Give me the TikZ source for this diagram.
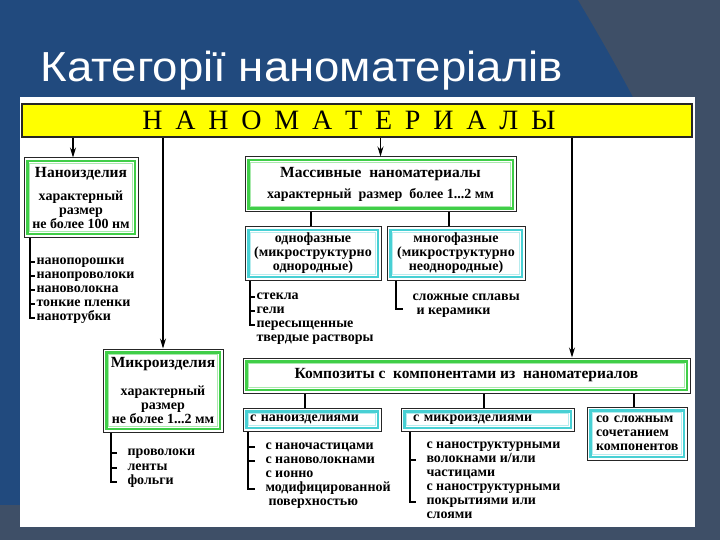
\documentclass[tikz,border=0pt]{standalone}
\usepackage{fontspec}
\setmainfont{Liberation Serif}
\newfontfamily\slidefont{Liberation Sans}
\usetikzlibrary{arrows.meta}

\definecolor{slideblue}{RGB}{33,74,126}
\definecolor{slidegray}{RGB}{62,79,103}
\definecolor{baryellow}{RGB}{255,255,0}
\definecolor{innergreen}{RGB}{64,206,72}
\definecolor{innercyan}{RGB}{72,208,212}

\newcommand{\itemfont}{\fontsize{14}{14}\selectfont\bfseries}
\newcommand{\headsize}{\fontsize{15.5}{15.5}\selectfont}
\newcommand{\barsp}{\hspace{12.8pt}}

\begin{document}
\begin{tikzpicture}[
            x = 1pt, y = -1pt, % pixel grid, y runs down
            > = {Stealth[length=10pt,width=6pt]}, % arrow head style
            line width = 1.1pt,
            framed/.style = {draw=black!85, fill=white, line width=1pt, inner sep=0pt, align=center, font=\itemfont},
            greenbox/.style = {framed, path picture={
                \draw[innergreen, line width=2.6pt] ([shift={(3.2pt,-3.2pt)}]path picture bounding box.north west) rectangle ([shift={(-3.2pt,3.2pt)}]path picture bounding box.south east);
                \draw[innergreen!45, line width=0.8pt] ([shift={(5.2pt,-5.2pt)}]path picture bounding box.north west) rectangle ([shift={(-5.2pt,5.2pt)}]path picture bounding box.south east);}},
            cyanbox/.style = {framed, path picture={
                \draw[innercyan, line width=2.6pt] ([shift={(3.2pt,-3.2pt)}]path picture bounding box.north west) rectangle ([shift={(-3.2pt,3.2pt)}]path picture bounding box.south east);
                \draw[innercyan!40, line width=0.8pt] ([shift={(5.2pt,-5.2pt)}]path picture bounding box.north west) rectangle ([shift={(-5.2pt,5.2pt)}]path picture bounding box.south east);}},
            entry/.style = {anchor=west, inner sep=0pt, outer sep=1.5pt, font=\itemfont, text height=1.6ex, text depth=0.3ex}
        ]
\useasboundingbox (0,0) rectangle (720,540);

% slide background
\fill[slideblue] (0,0) rectangle (720,540);
\fill[slidegray] (578,0) .. controls (605,45) and (630,90) .. (650,130) -- (650,505) -- (0,505) -- (0,540) -- (720,540) -- (720,0) -- cycle;
\fill[white] (20,97) rectangle (695,527);

\node[anchor=base west, text=white, inner sep=0pt, font=\slidefont\fontsize{42}{42}\selectfont] (title) at (40,82) {\scalebox{1.085}[1]{Категорії наноматеріалів}};

% top bar
\node[draw=black!85, fill=baryellow, line width=1.3pt, minimum width=670pt, minimum height=33pt, inner sep=0pt, font=\fontsize{28}{28}\selectfont] (bar) at (357,120.5)
     {Н\barsp А\barsp Н\barsp О\barsp М\barsp А\barsp Т\barsp Е\barsp Р\barsp И\barsp А\barsp Л\barsp Ы\hspace*{16pt}};

% boxes
\node[greenbox, minimum width=114pt, minimum height=79pt] (nanoizd) at (81,197.5) {{\headsize Наноизделия}\\[9pt] характерный\\ размер\\ не более 100 нм};
\node[greenbox, minimum width=271pt, minimum height=55pt] (massiv) at (380.5,184.5) {{\headsize Массивные\ \ наноматериалы}\\[7pt] характерный\ \ размер\ \ более 1...2 мм};
\node[cyanbox, minimum width=136pt, minimum height=53pt] (odnof) at (313,253.5) {однофазные\\ (микроструктурно\\ однородные)};
\node[cyanbox, minimum width=138pt, minimum height=53pt] (mnogof) at (456,253.5) {многофазные\\ (микроструктурно\\ неоднородные)};
\node[greenbox, minimum width=120pt, minimum height=83pt] (mikroizd) at (163,390.5) {{\headsize Микроизделия}\\[14pt] характерный\\ размер\\ не более 1...2 мм};
\node[greenbox, minimum width=447pt, minimum height=35pt] (kompoz) at (466.5,375.5) {{\headsize Композиты с\ \ компонентами из\ \ наноматериалов}};
\node[cyanbox, minimum width=138pt, minimum height=23pt, text width=124pt, align=left] (snano) at (312,419.5) {с наноизделиями};
\node[cyanbox, minimum width=173pt, minimum height=23pt, text width=149pt, align=left] (smikro) at (487.5,419.5) {с микроизделиями};
\node[cyanbox, minimum width=100pt, minimum height=53pt, text width=82pt, align=left] (sslozh) at (637,433.5) {со сложным\\ сочетанием\\ компонентов};

% arrows from the bar
\draw[->] (73,0 |- bar.south) -- (73,0 |- nanoizd.north);
\draw[->] (bar.south -| mikroizd.north) -- (mikroizd.north);
\draw[->] (bar.south -| massiv.north) -- (massiv.north);
\draw[->] (572,0 |- bar.south) -- (572,0 |- kompoz.north);

% branches
\draw (311,0 |- massiv.south) -- (311,0 |- odnof.north);
\draw (449,0 |- massiv.south) -- (449,0 |- mnogof.north);
\draw (305,0 |- kompoz.south) -- (305,0 |- snano.north);
\draw (484,0 |- kompoz.south) -- (484,0 |- smikro.north);
\draw (634,0 |- kompoz.south) -- (634,0 |- sslozh.north);

% lists
\node[entry] (np1) at (35,262) {нанопорошки};
\node[entry] (np2) at (35,276) {нанопроволоки};
\node[entry] (np3) at (35,290) {нановолокна};
\node[entry] (np4) at (35,304) {тонкие пленки};
\node[entry] (np5) at (35,318) {нанотрубки};
\draw (30,0 |- nanoizd.south) |- (np5.west);
\draw (30,0 |- np1.west) -- (np1.west);
\draw (30,0 |- np2.west) -- (np2.west);
\draw (30,0 |- np3.west) -- (np3.west);
\draw (30,0 |- np4.west) -- (np4.west);

\node[entry] (st1) at (255,297) {стекла};
\node[entry] (st2) at (255,311) {гели};
\node[entry] (st3) at (255,325) {пересыщенные};
\node[entry] (st4) at (255,339) {твердые растворы};
\draw (250,0 |- odnof.south) |- (st3.west);
\draw (250,0 |- st1.west) -- (st1.west);
\draw (250,0 |- st2.west) -- (st2.west);

\node[entry] (sp1) at (411,298) {сложные сплавы};
\node[entry] (sp2) at (415,312) {и керамики};
\draw (396,0 |- mnogof.south) |- (403,309);

\node[entry] (pr1) at (126,453) {проволоки};
\node[entry] (pr2) at (126,468) {ленты};
\node[entry] (pr3) at (126,482) {фольги};
\draw (111,0 |- mikroizd.south) |- (117,0 |- pr3.west);
\draw (111,0 |- pr1.west) -- ++(6,0);
\draw (111,0 |- pr2.west) -- ++(6,0);

\node[entry] (sn1) at (264,447) {с наночастицами};
\node[entry] (sn2) at (264,461) {с нановолокнами};
\node[entry] (sn3) at (264,475) {с ионно};
\node[entry] (sn4) at (264,489) {модифицированной};
\node[entry] (sn5) at (267,503) {поверхностью};
\draw (248,0 |- snano.south) |- (255,0 |- sn4.west);
\draw (248,0 |- sn1.west) -- ++(7,0);
\draw (248,0 |- sn2.west) -- ++(7,0);

\node[entry] (sm1) at (425,446) {с наноструктурными};
\node[entry] (sm2) at (425,460) {волокнами и/или};
\node[entry] (sm3) at (425,474) {частицами};
\node[entry] (sm4) at (425,488) {с наноструктурными};
\node[entry] (sm5) at (425,502) {покрытиями или};
\node[entry] (sm6) at (425,516) {слоями};
\draw (410,0 |- smikro.south) |- (416,0 |- sm5.west);
\draw (410,0 |- sm2.west) -- ++(6,0);
\end{tikzpicture}
\end{document}
